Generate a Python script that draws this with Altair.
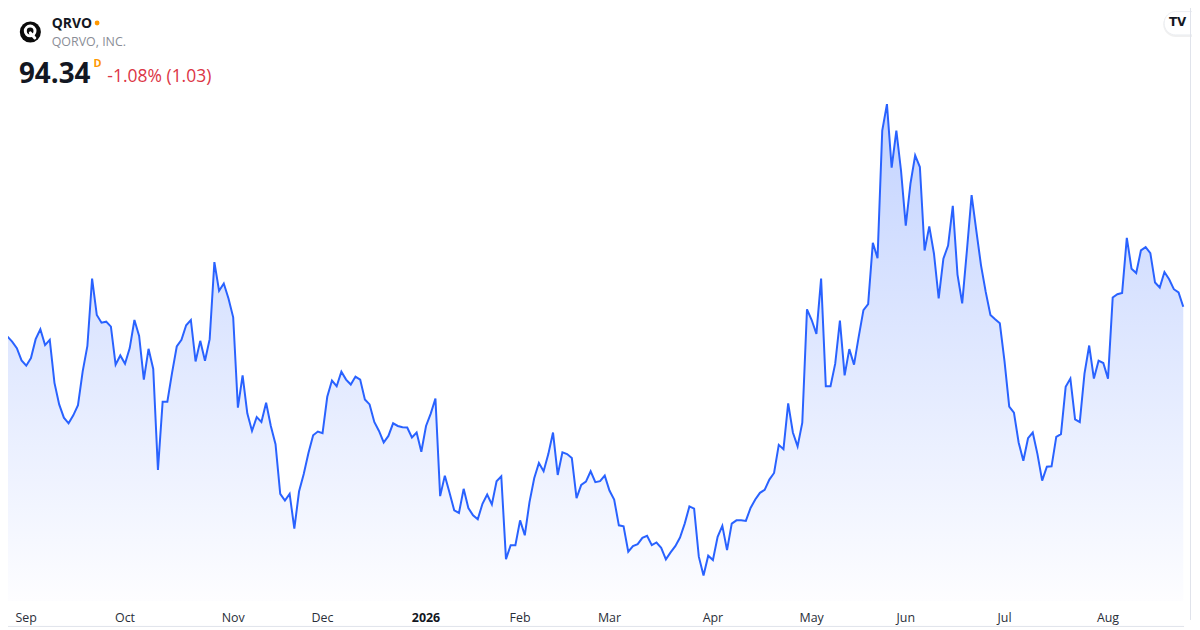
import altair as alt
import pandas as pd

# Daily closes (index = trading day)
prices = [
    91.08, 91.34, 90.84, 90.18, 88.94, 88.41, 89.18, 91.08, 92.08, 90.48,
    91.01, 86.68, 84.51, 83.18, 82.61, 83.41, 84.44, 87.84, 90.41, 97.18,
    93.51, 92.74, 92.84, 92.34, 88.51, 89.44, 88.61, 90.18, 93.01, 91.41,
    87.01, 90.11, 88.08, 77.91, 84.78, 84.78, 87.68, 90.34, 91.01, 92.48,
    93.01, 88.84, 90.91, 88.91, 91.08, 98.84, 95.94, 96.68, 95.18, 93.28,
    84.18, 87.44, 83.61, 81.84, 83.24, 82.74, 84.68, 82.34, 80.51, 75.51,
    74.84, 75.51, 72.01,
    75.74, 77.51, 79.61, 81.41, 81.78, 81.61, 85.28, 86.91, 86.34, 87.81,
    87.01, 86.51, 87.31, 87.01, 85.01, 84.51, 82.74, 81.84, 80.68, 81.34,
    82.61, 82.34, 82.21, 82.18, 81.18, 81.68, 79.74, 82.34, 83.58, 85.11,
    75.28, 77.34, 75.61, 73.84, 73.58, 76.01, 74.08, 73.34, 72.94, 74.51,
    75.44, 74.44, 76.78, 77.28, 68.94, 70.34, 70.34, 72.84, 71.34, 74.68,
    77.08, 78.61, 77.78, 79.51, 81.68, 77.41, 79.68, 79.51, 79.11, 75.08,
    76.41, 76.74, 77.78, 76.68, 76.78, 77.34,
    75.84, 74.94, 72.34, 72.24, 69.68, 70.24, 70.44, 71.08, 71.28, 70.34,
    70.61, 70.08, 68.91, 69.61, 70.24, 71.11, 72.51, 74.24, 74.01, 69.18,
    67.28, 69.28, 68.84, 71.18, 72.28, 69.84, 72.51, 72.84, 72.84, 72.78,
    74.08, 74.94, 75.61, 75.91, 76.94, 77.61, 80.44, 80.01, 84.61, 81.68,
    80.28, 82.68, 94.08, 93.01, 91.61, 97.18, 86.34, 86.34, 88.61, 92.94,
    87.44, 90.08, 88.51, 91.34, 94.01, 94.61, 100.78, 99.24,
    112.08, 114.74, 108.34, 112.08, 108.01, 102.51, 106.74, 109.58, 108.41, 100.01,
    102.44, 99.68, 95.18, 99.18, 100.51, 104.51, 97.58, 94.68, 100.01, 105.58,
    102.01, 98.51, 95.84, 93.51, 93.08, 92.68, 88.84, 84.28, 83.68, 80.68,
    78.84, 81.11, 81.68, 79.51, 76.84, 78.24, 78.28, 81.24, 81.51, 86.28,
    87.11, 83.01, 82.74, 87.61, 90.44, 87.11, 88.91, 88.68, 87.11, 95.28,
    95.61, 95.74, 101.28, 98.18, 97.74, 100.01, 100.34, 99.74, 96.78, 96.28,
    97.84, 97.11, 96.11, 95.78, 94.34,
]

tick_index = [5, 26, 49, 68, 90, 110, 129, 151, 172, 192, 213, 235]
tick_labels = ["Sep", "Oct", "Nov", "Dec", "2026", "Feb", "Mar", "Apr", "May", "Jun", "Jul", "Aug"]
tick_weight = ["normal", "normal", "normal", "normal", "bold", "normal",
               "normal", "normal", "normal", "normal", "normal", "normal"]

symbol = "QRVO"
company = "QORVO, INC."
last_price = "94.34"
change_text = "-1.08% (1.03)"

FONT = "Open Sans"
W, H = 1184, 513
Y_MIN, Y_MAX = 64.71, 116.01
X_MIN, X_MAX = 1.12, 251.17

df = pd.DataFrame({"i": list(range(len(prices))), "price": prices})
ticks = pd.DataFrame({"i": tick_index, "label": tick_labels, "w": tick_weight})
one = pd.DataFrame({"k": [0]})

xs = alt.Scale(domain=[X_MIN, X_MAX], nice=False, zero=False)
ys = alt.Scale(domain=[Y_MIN, Y_MAX], nice=False, zero=False)
x = alt.X("i:Q", scale=xs, axis=None)
y = alt.Y("price:Q", scale=ys, axis=None)

grad = alt.Gradient(
    gradient="linear",
    stops=[
        alt.GradientStop(color="#fdfdff", offset=0),
        alt.GradientStop(color="#c3d3ff", offset=1),
    ],
    x1=1, x2=1, y1=1, y2=0,
)

area = alt.Chart(df).mark_area(fill=grad, opacity=1).encode(
    x=x, y=y, y2=alt.Y2(datum=Y_MIN))
line = alt.Chart(df).mark_line(color="#2962FF", strokeWidth=2).encode(x=x, y=y)

LAB_Y = 534.5
lab_normal = alt.Chart(ticks).transform_filter("datum.w == 'normal'").mark_text(
    font=FONT, fontSize=12.5, color="#2a2e39", align="center", baseline="alphabetic"
).encode(x=alt.X("i:Q", scale=xs, axis=None), y=alt.value(LAB_Y), text="label:N")
lab_bold = alt.Chart(ticks).transform_filter("datum.w == 'bold'").mark_text(
    font=FONT, fontSize=12.5, fontWeight="bold", color="#131722", align="center", baseline="alphabetic"
).encode(x=alt.X("i:Q", scale=xs, axis=None), y=alt.value(LAB_Y), text="label:N")


def txt(s, px, py, size, color, weight="normal"):
    return alt.Chart(pd.DataFrame({"t": [s]})).mark_text(
        font=FONT, fontSize=size, fontWeight=weight, color=color,
        align="left", baseline="alphabetic"
    ).encode(x=alt.value(px), y=alt.value(py), text="t:N")


logo = alt.Chart(one).mark_point(filled=True, shape="circle", size=452, color="#0b0b0b", opacity=1).encode(
    x=alt.value(22.5), y=alt.value(-60))
logo_ring = alt.Chart(one).mark_point(filled=False, shape="circle", size=95, color="white",
                                      strokeWidth=3, opacity=1).encode(x=alt.value(22.3), y=alt.value(-61))
logo_tail = alt.Chart(one).mark_rule(color="white", strokeWidth=3, strokeCap="round").encode(
    x=alt.value(22.5), x2=alt.value(27), y=alt.value(-59), y2=alt.value(-54))
dot = alt.Chart(one).mark_point(filled=True, shape="circle", size=24, color="#ff9800", opacity=1).encode(
    x=alt.value(89.7), y=alt.value(-69))

tv_shadow = alt.Chart(one).mark_rect(fill="#000000", fillOpacity=0.06, cornerRadius=12.5).encode(
    x=alt.value(1163), x2=alt.value(1207), y=alt.value(-80), y2=alt.value(-55))
tv_pill = alt.Chart(one).mark_rect(fill="white", stroke="#eceef2", strokeWidth=1, cornerRadius=11.5).encode(
    x=alt.value(1164), x2=alt.value(1206), y=alt.value(-80.5), y2=alt.value(-57))
tv_text = alt.Chart(pd.DataFrame({"t": ["TV"]})).mark_text(
    font="DejaVu Sans", fontSize=12, fontWeight="bold", color="#131722", align="center", baseline="middle"
).encode(x=alt.value(1177.5), y=alt.value(-69.5), text="t:N")

border_r = alt.Chart(one).mark_rule(color="#e0e3eb", strokeWidth=1).encode(
    x=alt.value(1190.5), y=alt.value(-90), y2=alt.value(532))
border_b = alt.Chart(one).mark_rule(color="#e0e3eb", strokeWidth=1).encode(
    x=alt.value(-8), x2=alt.value(1184), y=alt.value(538.5))

chart = alt.layer(
    area, line, lab_normal, lab_bold,
    logo, logo_ring, logo_tail,
    txt(symbol, 44, -64, 14, "#131722", "bold"), dot,
    txt(company, 44, -45.5, 12.5, "#8a8d96"),
    txt(last_price, 11, -9, 28, "#131722", "bold"),
    txt("D", 86, -25, 11, "#ff9800", "bold"),
    txt(change_text, 100, -9.5, 17.6, "#dc3545"),
    tv_shadow, tv_pill, tv_text, border_r, border_b,
).properties(
    width=W, height=H,
    autosize=alt.AutoSizeParams(type="none"),
    padding={"left": 0, "top": 82, "right": 8, "bottom": 27},
).configure_view(stroke=None)

chart.save("out.html", embed_options={"renderer": "svg", "actions": False})
